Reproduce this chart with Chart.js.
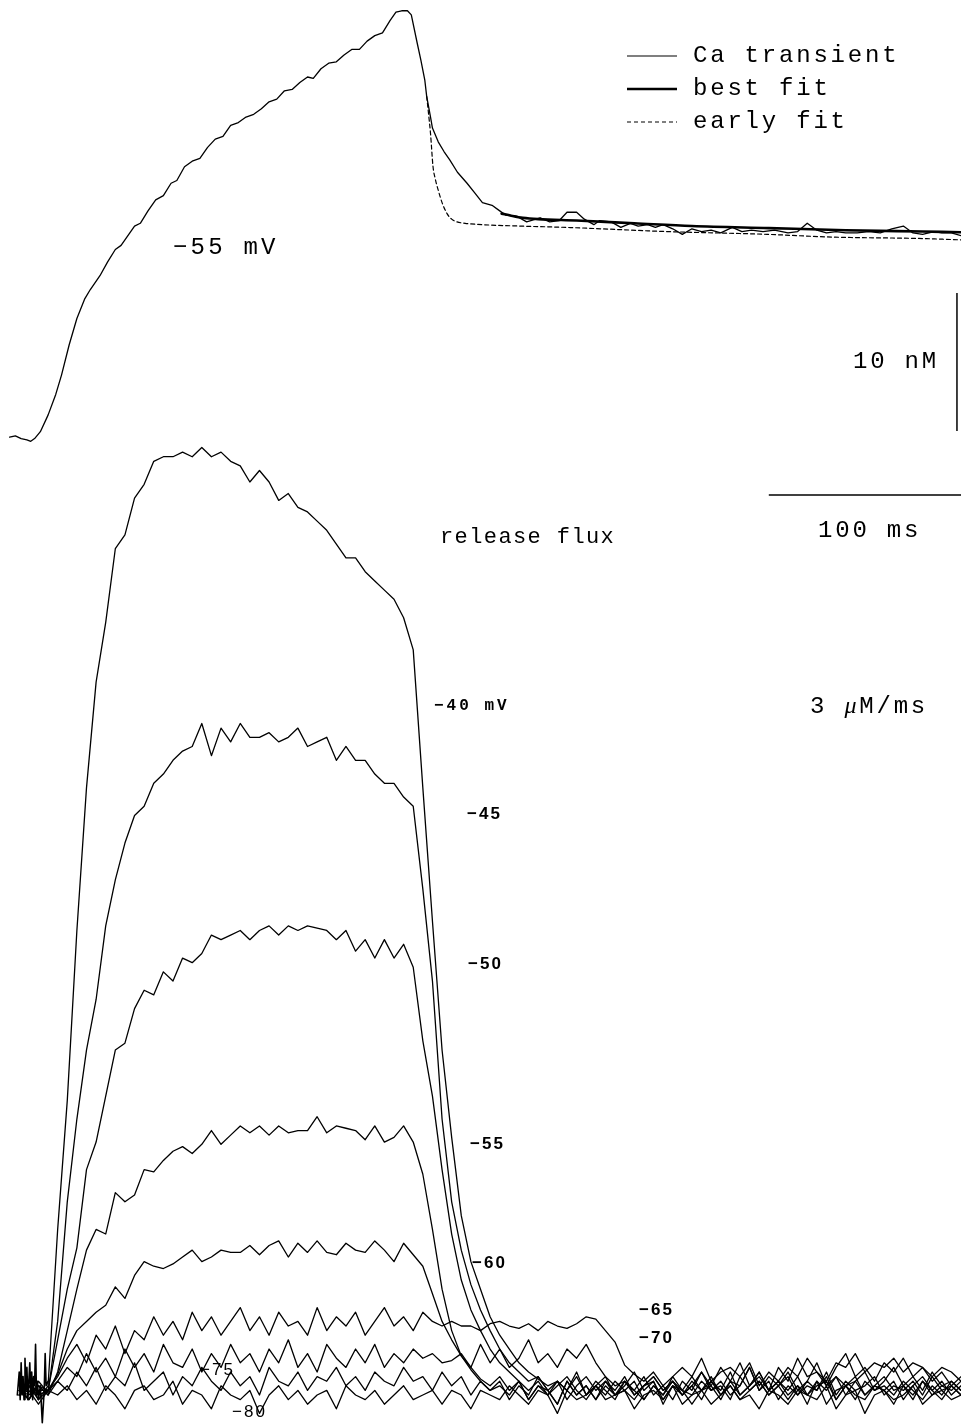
<!DOCTYPE html>
<html>
<head>
<meta charset="utf-8">
<script src="https://cdn.jsdelivr.net/npm/chart.js@4/dist/chart.umd.min.js"></script>
<style>
html,body{margin:0;padding:0;background:#fff;}
#wrap{width:961px;height:1425px;}
</style>
</head>
<body>
<div id="wrap"><canvas id="c" width="961" height="1425"></canvas></div>
<script>
// ---------- Top panel: Ca transient (nM) vs time (ms) ----------
const caTime = [5,8,11,14,16,18,21,25,29,32,36,40,44,47,52,56,60,63,66,70,73,77,81,85,89,92,96,100,104,108,112,116,120,124,128,132,136,140,144,148,152,156,160,163,167,171,175,179,183,187,191,195,199,203,206,209,212,214,217,219,221,222,224,225,228,231,234,238,243,247,251,256,260,263,269,274,281,286,291,295,300,304,309,312,318,323,328,332,337,341,345,350,355,360,365,370,375,381,386,391,397,403,410,415,420,425,430,435,440,446,452,458,464,470,475,480,486,490,495,500];
const caValue = [0.2,0.3,0.1,0.0,-0.1,0.1,0.6,1.8,3.3,4.7,6.9,8.8,10.2,10.9,11.9,12.9,13.8,14.1,14.7,15.5,15.7,16.6,17.4,17.7,18.6,18.8,19.8,20.2,20.4,21.2,21.8,22.0,22.8,23.0,23.4,23.6,24.0,24.5,24.7,25.3,25.4,25.9,26.3,26.2,26.9,27.3,27.4,27.9,28.3,28.3,28.9,29.3,29.5,30.4,31.0,31.1,31.1,30.8,28.8,27.5,26.1,24.9,23.4,22.6,21.6,20.9,20.3,19.4,18.6,17.9,17.2,17.0,16.6,16.3,16.2,15.8,16.1,15.8,15.9,16.5,16.5,16.0,15.6,15.9,15.8,15.4,15.7,15.5,15.6,15.4,15.6,15.3,14.9,15.3,15.1,15.2,15.0,15.4,15.1,15.2,15.1,15.2,15.0,15.1,15.7,15.2,15.0,15.1,15.0,15.0,15.1,15.0,15.3,15.5,15.0,14.9,15.1,15.0,15.0,14.8];
const bestFitTime = [261,266,272,280,300,330,360,400,440,480,500];
const bestFitValue = [16.4,16.25,16.1,16.0,15.9,15.7,15.5,15.35,15.2,15.1,15.05];
const earlyFitTime = [222,223,224,225.3,226.5,228,230,232.6,235,237.8,242,251,270,295,347,399,433,478,500];
const earlyFitValue = [24.9,23.6,22.2,19.8,18.9,18.1,17.2,16.4,16.0,15.8,15.7,15.6,15.5,15.4,15.1,14.9,14.7,14.6,14.5];

// ---------- Bottom panel: release flux (uM/ms) vs time (ms) ----------
const fluxTime = [10,15,20,25,30,35,40,45,50,55,
 60,65,70,75,80,85,90,95,100,105,
 110,115,120,125,130,135,140,145,150,155,
 160,165,170,175,180,185,190,195,200,205,
 210,215,220,225,230,235,240,245,250,255,
 260,265,270,275,280,285,290,295,300,305,
 310,315,320,325,330,335,340,345,350,355,
 360,365,370,375,380,385,390,395,400,405,
 410,415,420,425,430,435,440,445,450,455,
 460,465,470,475,480,485,490,495,500];
const fluxM40 = [0.1,0.3,-0.1,0.2,3.6,6.4,10.1,13.2,15.5,16.8,
 18.4,18.7,19.5,19.8,20.3,20.4,20.4,20.5,20.4,20.6,
 20.4,20.5,20.3,20.2,19.85,20.1,19.85,19.45,19.6,19.3,
 19.2,19.0,18.8,18.5,18.2,18.2,17.9,17.7,17.5,17.3,
 16.9,16.2,13.2,10.3,7.5,5.6,3.9,2.9,2.3,1.7,
 1.3,1.0,0.7,0.5,0.35,0.2,0.3,0.1,0.4,0.0,
 0.3,0.1,-0.1,0.3,0.1,0.4,0.0,0.2,-0.1,0.3,
 0.1,0.5,0.2,0.6,0.3,0.7,0.2,0.5,0.1,0.6,
 0.3,0.8,0.4,0.5,0.2,0.6,0.9,0.4,0.6,0.3,
 0.7,0.5,0.8,0.4,0.6,0.3,0.5,0.2,0.4];
const fluxM45 = [0.2,-0.1,0.3,0.05,1.6,4.2,6.0,7.5,8.6,10.2,
 11.2,12.0,12.6,12.8,13.3,13.5,13.8,14.0,14.1,14.6,
 13.9,14.5,14.2,14.6,14.3,14.3,14.4,14.2,14.3,14.5,
 14.1,14.2,14.3,13.8,14.1,13.8,13.8,13.5,13.3,13.3,
 13.0,12.8,11.0,9.0,6.0,4.2,3.15,2.4,1.85,1.4,
 1.0,0.7,0.5,0.3,0.4,0.1,0.3,-0.1,0.2,0.4,
 0.1,0.3,0.0,0.2,0.5,0.1,0.3,-0.2,0.2,0.0,
 0.3,0.1,0.4,0.0,0.3,0.2,0.6,0.1,0.4,0.2,
 0.5,0.1,0.3,0.7,0.2,0.4,0.0,0.3,0.5,0.1,
 0.3,0.6,0.2,0.4,0.1,0.5,0.2,0.3,0.1];
const fluxM50 = [0.0,0.2,-0.1,0.1,1.2,2.3,3.2,4.9,5.5,6.5,
 7.5,7.65,8.4,8.8,8.7,9.2,9.0,9.5,9.4,9.6,
 10.0,9.9,10.0,10.1,9.9,10.1,10.2,10.0,10.2,10.1,
 10.2,10.15,10.1,9.9,10.1,9.65,9.9,9.5,9.9,9.5,
 9.8,9.3,7.7,6.5,4.9,3.5,2.5,1.85,1.4,1.0,
 0.7,0.5,0.3,0.1,0.3,0.0,0.2,0.4,0.1,-0.1,
 0.2,0.0,0.3,0.1,-0.1,0.2,0.4,0.1,0.3,0.0,
 0.2,-0.1,0.3,0.1,0.5,0.0,0.2,0.4,0.1,0.3,
 0.0,0.2,-0.2,0.3,0.1,0.4,0.2,-0.1,0.3,0.1,
 0.2,0.0,0.3,0.1,-0.1,0.2,0.0,0.3,0.1];
const fluxM55 = [0.1,-0.1,0.2,0.0,0.5,1.4,2.3,3.15,3.6,3.5,
 4.4,4.2,4.35,4.9,4.85,5.1,5.3,5.4,5.25,5.45,
 5.75,5.45,5.65,5.85,5.7,5.85,5.65,5.85,5.7,5.75,
 5.75,6.05,5.7,5.85,5.8,5.75,5.55,5.85,5.5,5.6,
 5.85,5.5,4.8,3.6,2.3,1.4,0.85,0.55,0.3,0.1,
 0.3,-0.1,0.2,0.0,0.4,0.1,-0.2,0.3,0.0,0.2,
 -0.1,0.3,0.1,0.4,0.0,0.2,0.3,-0.1,0.2,0.1,
 0.4,0.1,0.2,-0.1,0.3,0.0,0.2,0.5,0.1,0.3,
 0.1,0.4,0.0,0.2,0.3,-0.1,0.2,0.4,0.0,0.2,
 0.1,0.3,-0.1,0.2,0.4,0.1,0.3,0.0,0.2];
const fluxM60 = [0.0,0.2,0.1,0.1,0.45,1.0,1.4,1.6,1.8,1.95,
 2.35,2.1,2.6,2.9,2.8,2.75,2.85,3.0,3.15,2.9,
 3.0,3.15,3.1,3.1,3.25,3.05,3.25,3.35,3.0,3.3,
 3.1,3.35,3.1,3.05,3.3,3.15,3.1,3.35,3.15,2.9,
 3.3,3.05,2.8,2.2,1.6,1.2,0.85,0.6,0.35,0.2,
 0.4,0.1,0.3,-0.1,0.2,0.0,0.3,0.1,0.5,0.0,
 0.2,0.4,0.0,0.1,0.3,-0.1,0.2,0.0,0.3,0.1,
 0.0,0.3,0.1,0.2,-0.1,0.4,0.1,0.3,0.0,0.2,
 0.4,0.0,0.2,0.1,0.5,0.0,0.3,0.1,0.2,0.4,
 0.0,0.2,0.1,0.3,0.0,0.4,0.1,0.2,0.0];
const fluxM65 = [0.1,0.0,0.2,0.1,0.4,0.8,1.1,0.7,1.3,1.0,
 1.5,0.9,1.4,1.2,1.7,1.3,1.6,1.2,1.8,1.4,
 1.7,1.3,1.6,1.9,1.4,1.7,1.3,1.8,1.5,1.6,
 1.3,1.9,1.4,1.7,1.5,1.8,1.3,1.6,1.9,1.5,
 1.7,1.4,1.8,1.6,1.5,1.6,1.5,1.5,1.4,1.55,
 1.6,1.5,1.45,1.55,1.4,1.6,1.5,1.45,1.55,1.7,
 1.65,1.4,1.15,0.65,0.45,0.3,0.5,0.2,0.4,0.6,
 0.4,0.8,0.3,0.5,0.6,0.4,0.7,0.2,0.5,0.3,
 0.6,0.4,0.8,0.5,0.3,0.7,0.6,0.9,0.5,0.7,
 0.6,0.8,0.5,0.7,0.6,0.4,0.6,0.5,0.3];
const fluxM70 = [0.0,0.2,0.0,0.1,0.3,0.6,0.4,0.9,0.5,0.8,
 0.4,1.0,0.6,0.9,0.5,1.1,0.7,0.6,1.0,0.5,
 0.9,0.6,1.1,0.7,0.9,0.5,1.0,0.7,1.2,0.6,
 0.9,0.5,1.1,0.8,0.6,1.0,0.7,1.1,0.6,0.9,
 0.7,1.0,0.8,0.9,0.7,0.75,0.9,0.6,1.1,0.7,
 1.0,0.6,0.8,1.2,0.7,0.9,0.6,1.0,0.8,1.1,
 0.7,0.4,0.2,0.3,0.0,0.2,0.4,0.1,0.3,0.0,
 0.2,0.5,0.1,0.3,0.0,0.2,0.6,0.1,0.3,-0.1,
 0.2,0.0,0.3,0.1,0.4,-0.1,0.2,0.3,0.0,0.2,
 0.4,0.1,0.2,-0.1,0.3,0.0,0.2,0.1,0.3];
const fluxM75 = [0.1,-0.1,0.2,0.0,0.3,0.1,0.5,0.2,0.6,0.1,
 0.4,0.2,0.7,0.1,0.3,0.5,0.0,0.4,0.2,0.6,
 0.3,0.1,0.5,0.2,0.4,0.0,0.6,0.3,0.2,0.5,
 0.1,0.4,0.3,0.6,0.2,0.4,0.1,0.5,0.3,0.2,
 0.6,0.3,0.4,0.1,0.5,0.2,0.4,0.0,0.3,0.1,
 0.2,0.0,0.3,-0.1,0.2,0.1,-0.2,0.3,0.0,0.2,
 -0.1,0.2,0.0,0.3,0.1,-0.1,0.2,0.0,0.4,0.1,
 -0.2,0.1,0.3,0.0,0.2,-0.1,0.1,0.3,0.0,0.2,
 -0.1,0.2,0.0,0.3,-0.2,0.1,0.2,0.0,-0.1,0.2,
 0.1,-0.2,0.2,0.0,0.3,0.1,-0.1,0.2,0.0];
const fluxM80 = [0.0,0.1,-0.2,0.1,0.0,0.2,-0.1,0.1,-0.2,0.2,
 0.0,-0.3,0.1,0.2,-0.1,0.0,0.3,-0.2,0.1,0.0,
 -0.3,0.2,0.0,-0.1,0.1,-0.4,0.0,0.2,-0.1,0.1,
 -0.2,0.0,0.1,-0.3,0.2,0.0,-0.1,0.1,-0.2,0.0,
 0.2,-0.1,0.0,0.1,-0.2,0.1,0.0,-0.3,0.1,0.0,
 -0.1,0.2,0.0,-0.2,0.1,0.0,-0.4,0.1,-0.1,0.0,
 0.2,-0.1,0.0,0.1,-0.3,0.0,0.1,-0.1,0.2,-0.2,
 0.0,0.1,-0.2,0.0,0.2,-0.1,0.0,-0.3,0.1,0.0,
 -0.2,0.1,0.0,-0.1,0.2,-0.3,0.0,0.1,-0.4,0.0,
 0.1,-0.1,0.0,0.2,-0.2,0.0,0.1,-0.1,0.0];
// stimulus artifact at pulse onset
const artifactTime = [9,10,10.5,11,11.5,12,12.5,13,13.5,14,14.5,15,15.5,16,16.5,17,17.5,18,18.5,19,19.5,20,21,22,23,23.5,24,25];
const artifactValue = [0.0,0.5,-0.1,0.7,0.0,0.4,-0.1,0.8,0.1,0.6,-0.1,0.3,0.7,0.0,0.5,-0.1,0.4,0.2,1.1,0.0,0.3,-0.1,0.2,-0.6,0.1,0.9,0.2,0.3];

// scale bars (data units)
const barNMTime = [497.9,497.9];
const barNMValue = [0.65,10.65];
const barMsTime = [400,500];
const barMsValue = [19.57,19.57];

const pts = (ts, vs) => ts.map((t,i)=>({x:t, y:vs[i]}));
const line = (label, ts, vs, axis, extra) => Object.assign({
  label, data: pts(ts, vs), yAxisID: axis,
  borderColor:'#000', borderWidth:1.3, pointRadius:0, fill:false,
  tension:0, borderJoinStyle:'round', borderCapStyle:'round'
}, extra||{});

const fluxSets = [
  ['-40', fluxM40], ['-45', fluxM45], ['-50', fluxM50], ['-55', fluxM55],
  ['-60', fluxM60], ['-65', fluxM65], ['-70', fluxM70], ['-75', fluxM75], ['-80', fluxM80]
];

const datasets = [
  line('Ca transient', caTime, caValue, 'yCa', {borderWidth:1.3}),
  line('best fit', bestFitTime, bestFitValue, 'yCa', {borderWidth:2.6, cubicInterpolationMode:'monotone'}),
  line('early fit', earlyFitTime, earlyFitValue, 'yCa', {borderWidth:1.2, borderDash:[4,3], cubicInterpolationMode:'monotone'}),
  line('10 nM bar', barNMTime, barNMValue, 'yCa', {borderWidth:1.5, borderCapStyle:'butt'}),
  line('100 ms bar', barMsTime, barMsValue, 'yF', {borderWidth:1.5, borderCapStyle:'butt'}),
  line('artifact', artifactTime, artifactValue, 'yF', {borderWidth:1.6})
].concat(fluxSets.map(([n, v]) => line(n + ' mV', fluxTime, v, 'yF', {borderWidth:1.3})));

const labels = [
  {s:'Ca transient', x:693, y:56, f:'24px "Liberation Mono"', ls:'2.8px'},
  {s:'best fit', x:693, y:89, f:'24px "Liberation Mono"', ls:'2.8px'},
  {s:'early fit', x:693, y:122, f:'24px "Liberation Mono"', ls:'2.8px'},
  {s:'\u221255 mV', x:173, y:248, f:'24px "Liberation Mono"', ls:'3.2px'},
  {s:'10 nM', x:853, y:362, f:'24px "Liberation Mono"', ls:'2.8px'},
  {s:'100 ms', x:818, y:531, f:'24px "Liberation Mono"', ls:'2.8px'},
  {s:'release flux', x:440, y:537, f:'22px "Liberation Mono"', ls:'1.4px'},
  {s:'\u221240 mV', x:434, y:706, f:'bold 16px "Liberation Mono"', ls:'3px'},
  {s:'\u221245', x:467, y:814, f:'bold 17px "Liberation Sans"', ls:'2px'},
  {s:'\u221250', x:468, y:964, f:'bold 17px "Liberation Sans"', ls:'2px'},
  {s:'\u221255', x:470, y:1144, f:'bold 17px "Liberation Sans"', ls:'2px'},
  {s:'\u221260', x:472, y:1263, f:'bold 17px "Liberation Sans"', ls:'2px'},
  {s:'\u221265', x:639, y:1310, f:'bold 17px "Liberation Sans"', ls:'2px'},
  {s:'\u221270', x:639, y:1338, f:'bold 17px "Liberation Sans"', ls:'2px'},
  {s:'\u221275', x:200, y:1370, f:'17px "Liberation Sans"', ls:'2px'},
  {s:'\u221280', x:232, y:1412, f:'17px "Liberation Sans"', ls:'2px'}
];

const textPlugin = {
  id:'texts',
  afterDraw(chart){
    const ctx = chart.ctx;
    ctx.save();
    ctx.fillStyle = '#000';
    ctx.textBaseline = 'middle';
    ctx.textAlign = 'left';
    labels.forEach(l => {
      ctx.font = l.f;
      ctx.letterSpacing = l.ls;
      ctx.fillText(l.s, l.x, l.y);
    });
    // 3 μM/ms with italic mu
    ctx.letterSpacing = '2.8px';
    let x = 810;
    const y = 707;
    ctx.font = '24px "Liberation Mono"';
    ctx.fillText('3 ', x, y); x += ctx.measureText('3 ').width;
    ctx.font = 'italic 24px "Liberation Serif"';
    ctx.fillText('\u03BC', x, y); x += ctx.measureText('\u03BC').width;
    ctx.font = '24px "Liberation Mono"';
    ctx.fillText('M/ms', x, y);
    // legend samples
    ctx.letterSpacing = '0px';
    ctx.strokeStyle = '#000';
    const legend = [[56,1.2,[]],[89,2.6,[]],[122,1.2,[4,3]]];
    legend.forEach(([ly, w, d]) => {
      ctx.lineWidth = w; ctx.setLineDash(d);
      ctx.beginPath(); ctx.moveTo(627, ly); ctx.lineTo(677, ly); ctx.stroke();
    });
    ctx.setLineDash([]);
    ctx.restore();
  }
};

new Chart(document.getElementById('c'), {
  type:'line',
  data:{datasets},
  options:{
    responsive:false, animation:false, devicePixelRatio:1,
    layout:{padding:0},
    plugins:{legend:{display:false}, tooltip:{enabled:false}},
    elements:{line:{borderColor:'#000'}},
    scales:{
      x:{type:'linear', min:0, max:500, display:false},
      yCa:{type:'linear', min:-71.38, max:31.88, display:false},
      yF:{type:'linear', min:-0.652, max:30.33, display:false}
    }
  },
  plugins:[textPlugin]
});
</script>
</body>
</html>
